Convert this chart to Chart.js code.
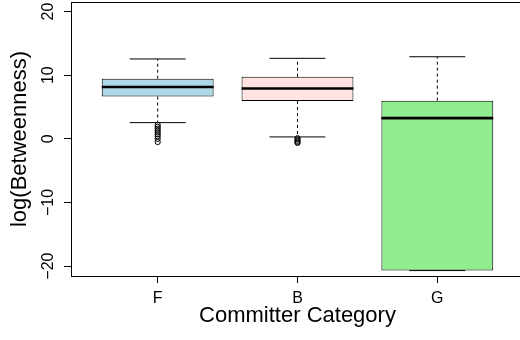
<!DOCTYPE html>
<html>
<head>
<meta charset="utf-8">
<script src="https://cdn.jsdelivr.net/npm/chart.js@4/dist/chart.umd.min.js"></script>
<style>
  html, body { margin: 0; padding: 0; background: #fff; overflow: hidden; }
  #wrap { width: 520px; height: 340px; overflow: hidden; position: relative; }
  /* plot frame runs past the right edge in the original, so the canvas is a bit wider and clipped */
  #c { position: absolute; left: 0; top: -3px; }
</style>
</head>
<body>
<div id="wrap"><canvas id="c" width="529" height="343"></canvas></div>
<script>
// box statistics
var categories = ['F', 'B', 'G'];
var whiskerLow = [2.55, 0.3, -20.7];
var q1 = [6.65, 5.95, -20.7];
var median = [8.15, 7.9, 3.25];
var q3 = [9.45, 9.75, 6.0];
var whiskerHigh = [12.55, 12.65, 12.9];
var outliersF = [2.2, 1.9, 1.6, 1.3, 1.0, 0.7, 0.4, 0.0, -0.5];
var outliersB = [0.1, -0.1, -0.3, -0.5, -0.65];
var yTicks = [-20, -10, 0, 10, 20];

var boxColors = ['#ADD8E6', '#FFE4E1', '#90EE90'];

// two points per box, then a null to break the line
function segments(fn) {
  var pts = [];
  categories.forEach(function (c, i) {
    var s = fn(i + 1, i);
    pts.push(s[0], s[1], { x: s[1].x, y: null });
  });
  return pts;
}

var whiskerPts = segments(function (x, i) {
  return [{ x: x, y: q3[i] }, { x: x, y: whiskerHigh[i] }];
}).concat(segments(function (x, i) {
  return [{ x: x, y: q1[i] }, { x: x, y: whiskerLow[i] }];
}));
var capPts = segments(function (x, i) {
  return [{ x: x - 0.2, y: whiskerHigh[i] }, { x: x + 0.2, y: whiskerHigh[i] }];
}).concat(segments(function (x, i) {
  return [{ x: x - 0.2, y: whiskerLow[i] }, { x: x + 0.2, y: whiskerLow[i] }];
}));
var medianPts = segments(function (x, i) {
  return [{ x: x - 0.4, y: median[i] }, { x: x + 0.4, y: median[i] }];
});
var outlierPts = outliersF.map(function (v) { return { x: 1, y: v }; })
  .concat(outliersB.map(function (v) { return { x: 2, y: v }; }));

var frame = {
  id: 'frame',
  afterDatasetsDraw: function (chart) {
    var a = chart.chartArea, ctx = chart.ctx;
    ctx.save();
    ctx.setLineDash([]);
    ctx.strokeStyle = '#000';
    ctx.lineWidth = 1;
    ctx.strokeRect(Math.round(a.left) + 0.5, Math.round(a.top) + 0.5,
      Math.round(a.right - a.left), Math.round(a.bottom - a.top));
    ctx.restore();
  }
};

Chart.defaults.font.family = '"Liberation Sans", Arial, Helvetica, sans-serif';
Chart.defaults.color = '#000';

var lineBase = { type: 'line', pointRadius: 0, spanGaps: false, borderColor: '#000', fill: false };

new Chart(document.getElementById('c'), {
  type: 'bar',
  data: {
    datasets: [
      Object.assign({}, lineBase, { data: whiskerPts, borderWidth: 1, borderDash: [3, 3], order: 3 }),
      {
        type: 'bar',
        data: categories.map(function (c, i) { return { x: i + 1, y: [q1[i], q3[i]] }; }),
        backgroundColor: boxColors,
        borderColor: '#000',
        borderWidth: 1,
        borderSkipped: false,
        barPercentage: 0.8,
        categoryPercentage: 1,
        order: 2
      },
      Object.assign({}, lineBase, { data: capPts, borderWidth: 1, order: 1 }),
      Object.assign({}, lineBase, { data: medianPts, borderWidth: 2.6, order: 0 }),
      {
        type: 'line',
        data: outlierPts,
        showLine: false,
        pointRadius: 2.6,
        pointStyle: 'circle',
        pointBorderColor: '#000',
        pointBackgroundColor: 'rgba(0,0,0,0)',
        pointBorderWidth: 1,
        order: 0
      }
    ]
  },
  options: {
    responsive: false,
    animation: false,
    layout: { padding: { top: 1.5, right: 2, bottom: 0, left: 0 } },
    plugins: { legend: { display: false }, tooltip: { enabled: false } },
    scales: {
      x: {
        type: 'linear',
        min: 0.38,
        max: 3.62,
        offset: false,
        afterFit: function (s) { s.height = 64; s.paddingLeft = 0; s.paddingRight = 0; },
        afterBuildTicks: function (s) {
          s.ticks = categories.map(function (c, i) { return { value: i + 1 }; });
        },
        ticks: {
          font: { size: 16 },
          padding: 6,
          callback: function (v) { return categories[v - 1]; }
        },
        grid: { display: true, offset: false, drawOnChartArea: false, drawTicks: true, tickLength: 7, color: '#000' },
        border: { display: false },
        title: {
          display: true,
          text: 'Committer Category',
          font: { size: 22 },
          padding: { top: 0, bottom: 11 }
        }
      },
      y: {
        type: 'linear',
        min: -21.55,
        max: 21.5,
        afterFit: function (s) { s.width = 71; s.paddingTop = 0; s.paddingBottom = 0; },
        afterBuildTicks: function (s) {
          s.ticks = yTicks.map(function (v) { return { value: v }; });
        },
        ticks: {
          font: { size: 16 },
          padding: 2,
          minRotation: 90,
          maxRotation: 90,
          crossAlign: 'center',
          callback: function (v) { return String(v).replace('-', '\u2212'); }
        },
        grid: { display: true, drawOnChartArea: false, drawTicks: true, tickLength: 7, color: '#000' },
        border: { display: false },
        title: {
          display: true,
          text: 'log(Betweenness)',
          font: { size: 22 },
          padding: { top: 7, bottom: 0 }
        }
      }
    }
  },
  plugins: [frame]
});
</script>
</body>
</html>
